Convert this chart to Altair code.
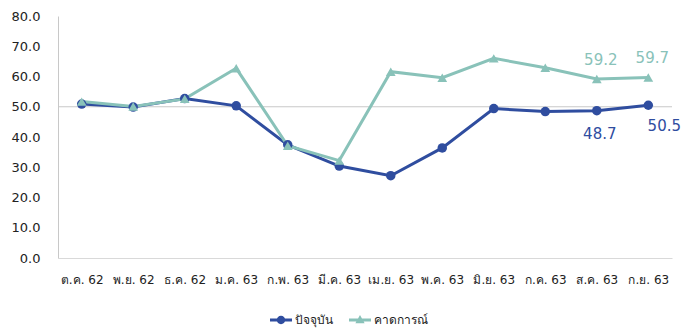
import altair as alt
import pandas as pd

months = ["ต.ค. 62", "พ.ย. 62", "ธ.ค. 62", "ม.ค. 63", "ก.พ. 63", "มี.ค. 63",
          "เม.ย. 63", "พ.ค. 63", "มิ.ย. 63", "ก.ค. 63", "ส.ค. 63", "ก.ย. 63"]
current = [50.9, 49.9, 52.7, 50.3, 37.4, 30.4, 27.2, 36.4, 49.4, 48.4, 48.7, 50.5]
forecast = [51.7, 50.1, 52.6, 62.7, 37.1, 32.2, 61.6, 59.6, 66.0, 62.9, 59.2, 59.7]
series = ["ปัจจุบัน", "คาดการณ์"]
colors = ["#2F4D9F", "#89C2B9"]

rows = []
for m, c, f in zip(months, current, forecast):
    rows.append({"month": m, "series": series[0], "value": c})
    rows.append({"month": m, "series": series[1], "value": f})
df = pd.DataFrame(rows)

FONT = "Tahoma, DejaVu Sans, sans-serif"

x_enc = alt.X("month:N", sort=months, scale=alt.Scale(type="point", padding=0.46),
              axis=alt.Axis(title=None, labelAngle=0, ticks=False, grid=False,
                            domainColor="#D9D9D9", labelFontSize=12, labelColor="#222222",
                            labelPadding=16, labelFont=FONT))
y_axis = alt.Axis(title=None, values=list(range(0, 81, 10)), format=".1f",
                  ticks=False, grid=False, domainColor="#C8C8C8",
                  labelFontSize=13, labelColor="#222222", labelPadding=18,
                  labelOverlap=False, labelFont=FONT)
y_scale = alt.Scale(domain=[0, 80], nice=False)
y_enc = alt.Y("value:Q", scale=y_scale, axis=y_axis)

circle_path = "M-1,-0.13H1V0.13H-1Z M-0.38,0A0.38,0.38 0 1,1 0.38,0A0.38,0.38 0 1,1 -0.38,0Z"
tri_path = "M-1,-0.13H1V0.13H-1Z M0,-0.45L0.42,0.3L-0.42,0.3Z"

legend = alt.Legend(
    title=None, orient="none", legendX=212, legendY=293, direction="horizontal",
    symbolSize=484, labelFontSize=12, labelFont=FONT, labelColor="#222222",
    columnPadding=16, labelOffset=3,
    symbolType=alt.ExprRef(expr=f"datum.value === '{series[0]}' ? '{circle_path}' : '{tri_path}'"),
    symbolStrokeWidth=0,
    symbolOpacity=1,
)

color_enc = alt.Color("series:N", scale=alt.Scale(domain=series, range=colors), legend=legend)

base = alt.Chart(df)

ref = alt.Chart(pd.DataFrame({"value": [50]})).mark_rule(color="#C8C8C8", strokeWidth=1).encode(
    y=y_enc)

lines = base.mark_line(strokeWidth=3).encode(x=x_enc, y=y_enc, color=color_enc)
pts_blue = base.transform_filter(f"datum.series === '{series[0]}'").mark_point(
    filled=True, size=90, opacity=1, shape="circle").encode(x=x_enc, y=y_enc, color=color_enc)
pts_green = base.transform_filter(f"datum.series === '{series[1]}'").mark_point(
    filled=True, size=95, opacity=1, shape="triangle-up").encode(x=x_enc, y=y_enc, color=color_enc)

last2 = "indexof(['" + months[10] + "','" + months[11] + "'], datum.month) >= 0"
lab_green = base.transform_filter(
    f"datum.series === '{series[1]}' && {last2}"
).mark_text(dy=-19, fontSize=15, font=FONT, color=colors[1], dx=4).encode(
    x=x_enc, y=y_enc, text=alt.Text("value:Q", format=".1f"))
lab_blue1 = base.transform_filter(
    f"datum.series === '{series[0]}' && datum.month === '{months[10]}'"
).mark_text(dy=23, fontSize=15, font=FONT, color=colors[0], dx=3).encode(
    x=x_enc, y=y_enc, text=alt.Text("value:Q", format=".1f"))
lab_blue2 = base.transform_filter(
    f"datum.series === '{series[0]}' && datum.month === '{months[11]}'"
).mark_text(dy=21, fontSize=15, font=FONT, color=colors[0], dx=16).encode(
    x=x_enc, y=y_enc, text=alt.Text("value:Q", format=".1f"))

chart = alt.layer(ref, lines, pts_blue, pts_green, lab_green, lab_blue1, lab_blue2).properties(
    width=614, height=242,
    background="white",
    autosize=alt.AutoSizeParams(type="none"),
    padding={"left": 50, "top": 8, "right": 16, "bottom": 72},
).configure_view(stroke=None)

chart.save("out.html", embed_options={"renderer": "svg", "actions": False})
